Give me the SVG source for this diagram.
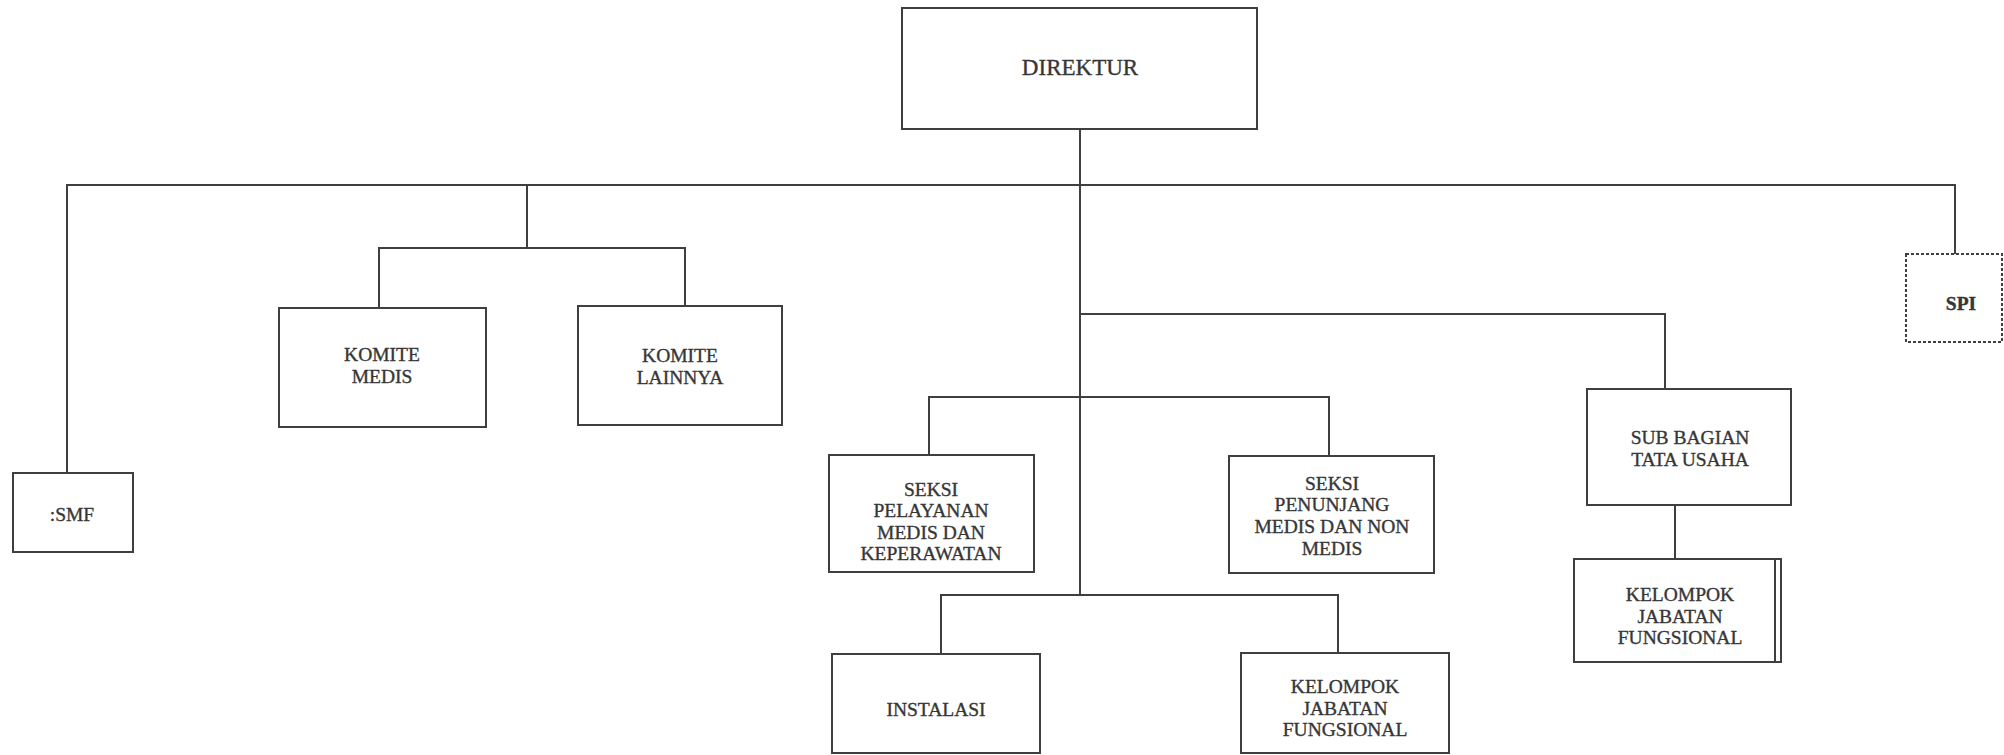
<svg xmlns="http://www.w3.org/2000/svg" width="2004" height="755" viewBox="0 0 2004 755">
<style>
.box{fill:none;stroke:#3f3f3f;stroke-width:2}
.dot{fill:none;stroke:#3f3f3f;stroke-width:2;stroke-dasharray:3 2}
.ln{fill:none;stroke:#3f3f3f;stroke-width:2}
text{font-family:"Liberation Serif","Times New Roman",serif;font-size:19.5px;fill:#363636;stroke:#363636;stroke-width:0.35;text-anchor:middle}
.big{font-size:23px}
.b{font-weight:bold}
</style>
<rect width="2004" height="755" fill="#ffffff"/>
<g id="connectors">
<path class="ln" d="M1080,129 V595"/>
<path class="ln" d="M67,473 V185 H1955 V254"/>
<path class="ln" d="M527,185 V248"/>
<path class="ln" d="M379,308 V248 H685 V306"/>
<path class="ln" d="M1080,314 H1665 V389"/>
<path class="ln" d="M929,455 V397 H1329 V456"/>
<path class="ln" d="M941,654 V595 H1338 V653"/>
<path class="ln" d="M1675,505 V559"/>
</g>
<g id="direktur"><rect class="box" x="902" y="8" width="355" height="121"/><text class="big" x="1080" y="75">DIREKTUR</text></g>
<g id="smf"><rect class="box" x="13" y="473" width="120" height="79"/><text x="72" y="521">:SMF</text></g>
<g id="komite-medis"><rect class="box" x="279" y="308" width="207" height="119"/><text x="382" y="361">KOMITE</text><text x="382" y="383">MEDIS</text></g>
<g id="komite-lainnya"><rect class="box" x="578" y="306" width="204" height="119"/><text x="680" y="362">KOMITE</text><text x="680" y="384">LAINNYA</text></g>
<g id="spi"><rect class="dot" x="1906" y="254" width="96" height="88"/><text class="b" x="1961" y="310">SPI</text></g>
<g id="seksi-pelayanan"><rect class="box" x="829" y="455" width="205" height="117"/><text x="931" y="496">SEKSI</text><text x="931" y="517">PELAYANAN</text><text x="931" y="539">MEDIS DAN</text><text x="931" y="560">KEPERAWATAN</text></g>
<g id="seksi-penunjang"><rect class="box" x="1229" y="456" width="205" height="117"/><text x="1332" y="490">SEKSI</text><text x="1332" y="511">PENUNJANG</text><text x="1332" y="533">MEDIS DAN NON</text><text x="1332" y="555">MEDIS</text></g>
<g id="sub-bagian"><rect class="box" x="1587" y="389" width="204" height="116"/><text x="1690" y="444">SUB BAGIAN</text><text x="1690" y="466">TATA USAHA</text></g>
<g id="kjf-tu"><rect class="box" x="1574" y="559" width="207" height="103"/><path class="ln" d="M1775,559 V662"/><text x="1680" y="601">KELOMPOK</text><text x="1680" y="623">JABATAN</text><text x="1680" y="644">FUNGSIONAL</text></g>
<g id="instalasi"><rect class="box" x="832" y="654" width="208" height="99"/><text x="936" y="716">INSTALASI</text></g>
<g id="kjf-bawah"><rect class="box" x="1241" y="653" width="208" height="100"/><text x="1345" y="693">KELOMPOK</text><text x="1345" y="715">JABATAN</text><text x="1345" y="736">FUNGSIONAL</text></g>
</svg>
